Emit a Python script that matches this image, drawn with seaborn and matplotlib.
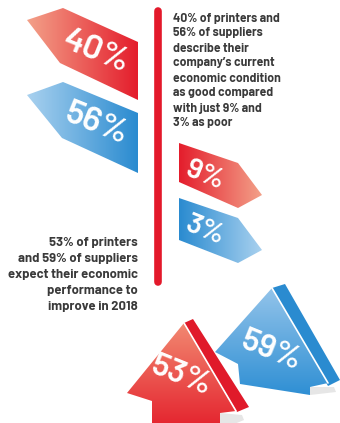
import numpy as np
import matplotlib
matplotlib.use("Agg")
import matplotlib.pyplot as plt
from matplotlib.patches import Polygon
from matplotlib.colors import LinearSegmentedColormap
import seaborn as sns

# Survey figures
printers_condition = [40, 9]      # good, poor
suppliers_condition = [56, 3]     # good, poor
outlook = {"printers": 53, "suppliers": 59}

current_text = [
    "40% of printers and",
    "56% of suppliers",
    "describe their",
    "company\u2019s current",
    "economic condition",
    "as good compared",
    "with just 9% and",
    "3% as poor",
]
outlook_text = [
    "53% of printers",
    "and 59% of suppliers",
    "expect their economic",
    "performance to",
    "improve in 2018",
]

RED, SALMON = "#e41d2c", "#f3a189"
BLUE, SKY = "#2a8bd0", "#a9d1ef"
NUM_FONT = ["Barlow", "DejaVu Sans"]
BODY_FONT = ["Barlow", "DejaVu Sans"]

sns.set_theme(style="white")
plt.rcParams["font.family"] = BODY_FONT

fig = plt.figure(figsize=(3.4, 4.23), dpi=100)
ax = fig.add_axes([0, 0, 1, 1])
ax.set_axis_off()

W, H = 340, 423


def gradient_shape(points, c0, c1, vertical=False, z=2):
    poly = Polygon(points, closed=True, facecolor="none", edgecolor="none", zorder=z)
    ax.add_patch(poly)
    xs, ys = zip(*points)
    cmap = LinearSegmentedColormap.from_list("g", [c0, c1])
    ramp = np.linspace(0, 1, 256)
    arr = ramp[:, None] if vertical else ramp[None, :]
    im = ax.imshow(arr, cmap=cmap, extent=(min(xs), max(xs), max(ys), min(ys)),
                   origin="upper", aspect="auto", interpolation="bilinear", zorder=z)
    im.set_clip_path(poly)


# signpost pole
ax.plot([158, 158], [11, 282], color="#e3192b", lw=5.5,
        solid_capstyle="round", zorder=1)

# left-pointing signs: current condition rated good
good_signs = [
    [(27, 20), (63, 8), (138, 42), (138, 100), (60, 63)],
    [(27, 95), (63, 82), (138, 113), (138, 173), (62, 138)],
]
good_centres = [(96, 52), (96, 124)]
for pts, (a, b), (cx, cy), val in zip(good_signs, [(SALMON, RED), (SKY, BLUE)],
                                      good_centres,
                                      [printers_condition[0], suppliers_condition[0]]):
    gradient_shape(pts, a, b)
    ax.text(cx, cy, f"{val}%", color="white", fontsize=25, fontweight="semibold",
            family=NUM_FONT, rotation=-22, ha="center", va="center", zorder=5)

# right-pointing signs: current condition rated poor
poor_signs = [
    [(179, 143), (238, 163), (262, 195), (238, 208), (179, 182)],
    [(179, 198), (238, 218), (262, 250), (238, 263), (179, 240)],
]
poor_centres = [(205, 176), (205, 231)]
for pts, (a, b), (cx, cy), val in zip(poor_signs, [(RED, SALMON), (BLUE, SKY)],
                                      poor_centres,
                                      [printers_condition[1], suppliers_condition[1]]):
    gradient_shape(pts, a, b)
    ax.text(cx, cy, f"{val}%", color="white", fontsize=21, fontweight="semibold",
            family=NUM_FONT, rotation=-22, ha="center", va="center", zorder=5)

# 3D up arrows: outlook for 2018
arrows = [
    dict(front=[(272, 288), (215, 352), (238, 364), (240, 384), (310, 395),
                (310, 387), (328, 383)],
         side=[(272, 288), (285, 284), (340, 380), (328, 386)],
         top="#93c4ea", bottom="#2f8fd4", edge=BLUE, z=3,
         centre=(271, 351), value=outlook["suppliers"]),
    dict(front=[(184, 323), (127, 393), (152, 401), (152, 430), (220, 430),
                (220, 413), (236, 411)],
         side=[(184, 323), (193, 319), (249, 407), (237, 412)],
         top="#f28a72", bottom="#e4202c", edge="#e01a2a", z=6,
         centre=(181, 376), value=outlook["printers"]),
]
for arw in arrows:
    (rx, ry), (sx, sy), (bx, by) = arw["front"][-1], arw["front"][-2], arw["front"][-3]
    shadow = Polygon([(sx, sy), (rx + 6, ry + 4), (rx + 8, ry + 9), (bx, by)],
                     closed=True, facecolor="#e6e6e6", edgecolor="none",
                     zorder=arw["z"] - 0.5)
    ax.add_patch(shadow)
    ax.add_patch(Polygon(arw["side"], closed=True, facecolor=arw["edge"],
                         edgecolor="none", zorder=arw["z"]))
    gradient_shape(arw["front"], arw["top"], arw["bottom"], vertical=True, z=arw["z"])
    (ax0, ay0) = arw["front"][0]
    ax.plot([ax0, rx], [ay0, ry], color="white", lw=1.2, zorder=arw["z"] + 0.2)
    cx, cy = arw["centre"]
    ax.text(cx, cy, f"{arw['value']}%", color="white", fontsize=24,
            fontweight="semibold", family=NUM_FONT, rotation=-22,
            ha="center", va="center", zorder=arw["z"] + 0.5)

# captions
for i, line in enumerate(current_text):
    ax.text(173, 18 + 15 * i, line, color="#3a3a3a", fontsize=8.8,
            fontweight="bold", ha="left", va="center", zorder=5)
for i, line in enumerate(outlook_text):
    ax.text(138, 243 + 16 * i, line, color="#3a3a3a", fontsize=9.4,
            fontweight="bold", ha="right", va="center", zorder=5)

ax.set_xlim(0, W)
ax.set_ylim(H, 0)
fig.savefig("out.png", dpi=100, facecolor="white")
